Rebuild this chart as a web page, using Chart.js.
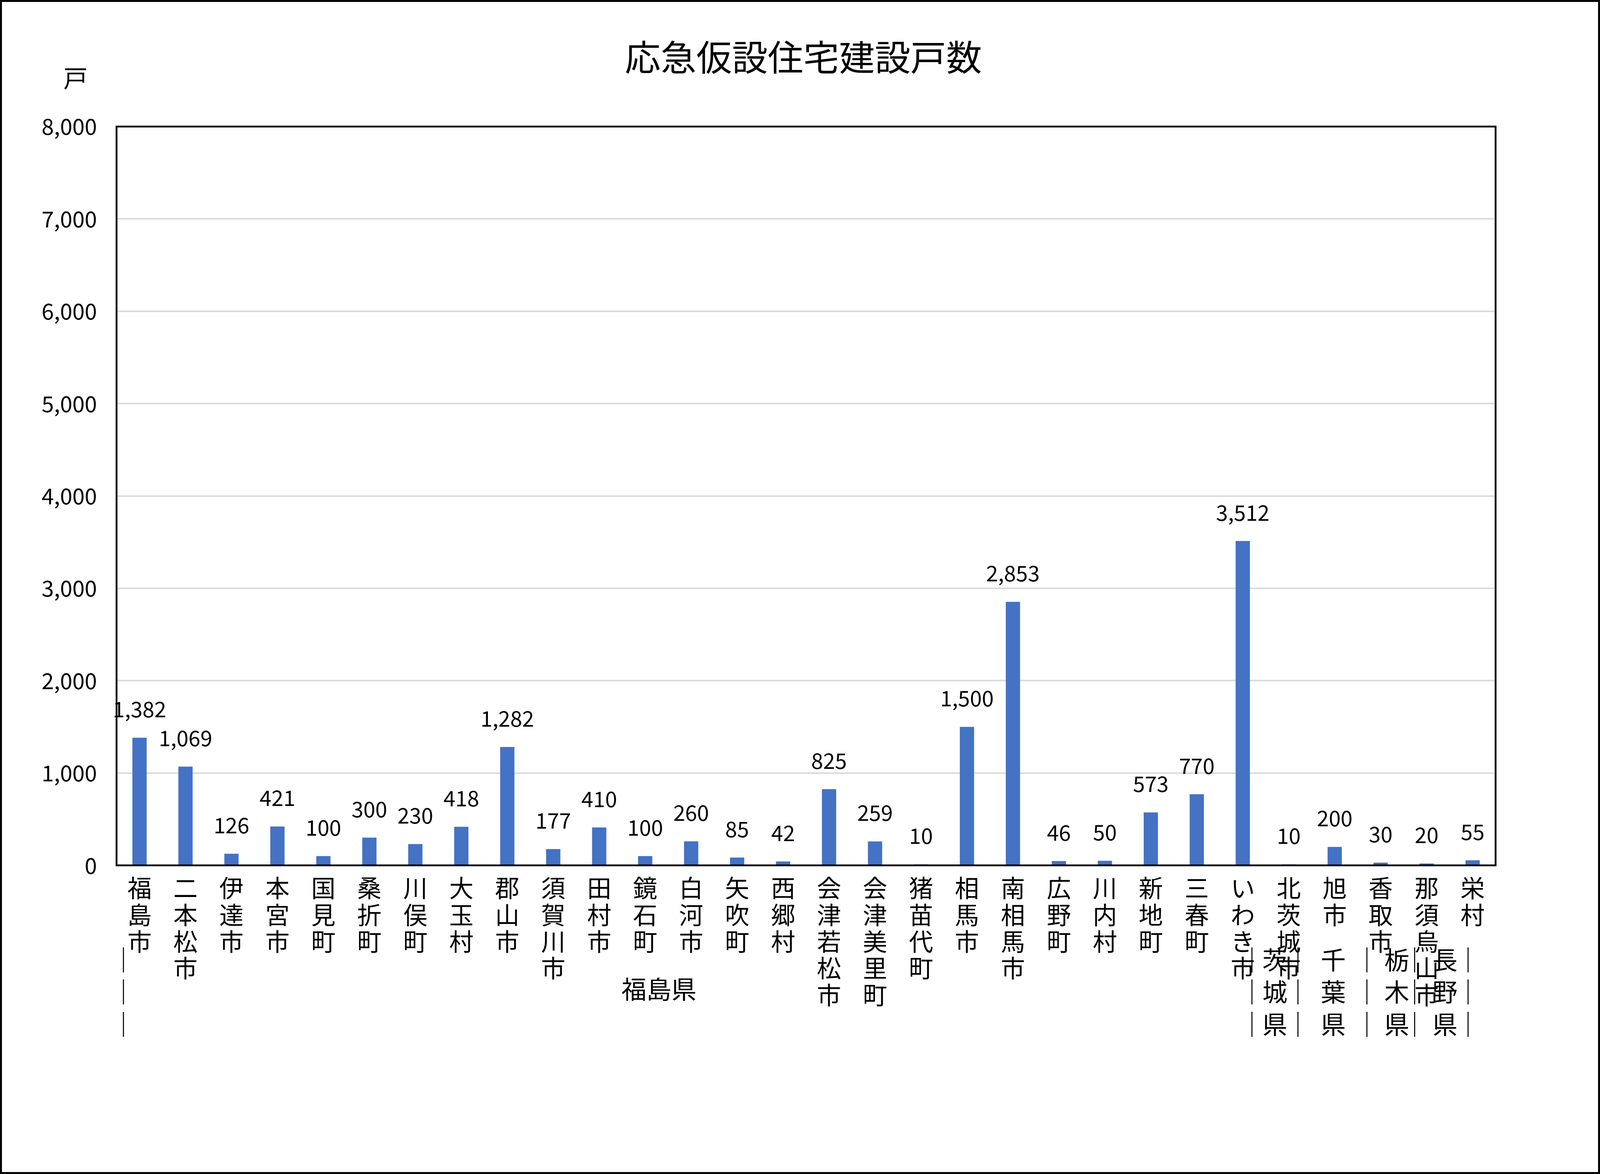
<!DOCTYPE html>
<html>
<head>
<meta charset="utf-8">
<script src="https://cdn.jsdelivr.net/npm/chart.js@4/dist/chart.umd.min.js"></script>
<style>
html, body { margin: 0; padding: 0; background: #fff; overflow: hidden; }
#wrap { box-sizing: border-box; border-style: solid; border-color: #000; }
</style>
</head>
<body>
<div id="wrap"><canvas id="myChart"></canvas></div>
<script>
// 市町村名
var cities = ["福島市","二本松市","伊達市","本宮市","国見町","桑折町","川俣町","大玉村","郡山市","須賀川市",
  "田村市","鏡石町","白河市","矢吹町","西郷村","会津若松市","会津美里町","猪苗代町","相馬市","南相馬市",
  "広野町","川内村","新地町","三春町","いわき市","北茨城市","旭市","香取市","那須烏山市","栄村"]
// 建設戸数
var units = [1382,1069,126,421,100,300,230,418,1282,177,
  410,100,260,85,42,825,259,10,1500,2853,
  46,50,573,770,3512,10,200,30,20,55]
var yTicks = [0,1000,2000,3000,4000,5000,6000,7000,8000]
// 県ラベル [文字, 位置(カテゴリ番号)]
var prefLabels = [
  [["｜","｜","｜"], -0.35],
  [["福島県"], 11.3],
  [["｜","｜","｜"], 24.2],
  [["茨","城","県"], 24.7],
  [["｜","｜","｜"], 25.2],
  [["千","葉","県"], 25.97],
  [["｜","｜","｜"], 26.7],
  [["栃","木","県"], 27.35],
  [["｜","｜","｜"], 27.74],
  [["長","野","県"], 28.4],
  [["｜","｜","｜"], 28.9]
]

var FONT = "'Noto Sans CJK JP', 'Noto Sans', sans-serif"

// fit to the actual window
var W = window.innerWidth, H = window.innerHeight
var s = W / 4482
var b = Math.max(1, Math.round(5 * s))
var wrap = document.getElementById("wrap")
wrap.style.width = W + "px"
wrap.style.height = H + "px"
wrap.style.borderWidth = b + "px"
var cv = document.getElementById("myChart")
cv.width = W - 2 * b
cv.height = H - 2 * b
cv.style.width = (W - 2 * b) + "px"
cv.style.height = (H - 2 * b) + "px"

var labels = cities.map(function(c){ return c.split("") })

var extras = {
  id: 'extras',
  afterDatasetsDraw: function(chart) {
    var ctx = chart.ctx
    var area = chart.chartArea
    ctx.save()
    ctx.strokeStyle = '#000'
    ctx.lineWidth = 5 * s
    ctx.strokeRect(area.left, area.top, area.right - area.left, area.bottom - area.top)
    ctx.fillStyle = '#000'
    ctx.font = (60 * s) + "px " + FONT
    ctx.textAlign = 'center'
    ctx.textBaseline = 'middle'
    var meta = chart.getDatasetMeta(0)
    meta.data.forEach(function(bar, i) {
      ctx.fillText(units[i].toLocaleString('en-US'), bar.x, bar.y - 80 * s)
    })
    ctx.font = (100 * s) + "px " + FONT
    ctx.fillText("応急仮設住宅建設戸数", 2245 * s, 155 * s)
    ctx.font = (68 * s) + "px " + FONT
    ctx.fillText("戸", 206 * s, 214 * s)
    var step = (area.right - area.left) / cities.length
    ctx.font = (70 * s) + "px " + FONT
    prefLabels.forEach(function(p) {
      var px = area.left + (p[1] + 0.5) * step
      var lines = p[0]
      if (lines.length == 1) {
        ctx.fillText(lines[0], px, 2765 * s)
      } else {
        for (var k = 0; k < lines.length; k++) ctx.fillText(lines[k], px, (2683 + k * 90) * s)
      }
    })
    ctx.restore()
  }
}

new Chart(cv.getContext('2d'), {
  type: 'bar',
  data: {
    labels: labels,
    datasets: [{
      data: units,
      backgroundColor: '#4472C4',
      barPercentage: 0.31,
      categoryPercentage: 1.0
    }]
  },
  options: {
    responsive: false,
    animation: false,
    layout: { padding: { left: 0, right: 287 * s, top: 349 * s, bottom: 0 } },
    plugins: { legend: { display: false }, tooltip: { enabled: false } },
    scales: {
      x: {
        grid: { display: false },
        border: { display: false },
        ticks: {
          autoSkip: false, maxRotation: 0, minRotation: 0,
          color: '#000', padding: 18 * s,
          font: { size: 68 * s, family: FONT, lineHeight: 1.1 }
        },
        afterFit: function(sc) { sc.height = 859 * s }
      },
      y: {
        min: 0, max: 8000,
        afterBuildTicks: function(sc) { sc.ticks = yTicks.map(function(v){ return { value: v } }) },
        grid: { color: '#d9d9d9', lineWidth: 4 * s, drawTicks: false },
        border: { display: false },
        ticks: {
          color: '#000', padding: 55 * s,
          font: { size: 62 * s, family: FONT },
          callback: function(v) { return v.toLocaleString('en-US') }
        },
        afterFit: function(sc) { sc.width = 321 * s }
      }
    }
  },
  plugins: [extras]
})
</script>
</body>
</html>
